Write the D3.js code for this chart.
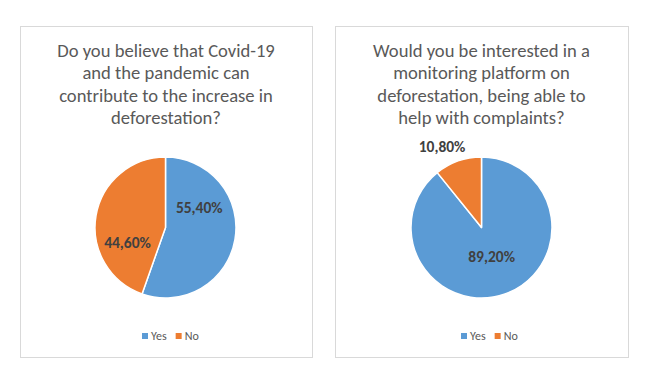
<!DOCTYPE html>
<html><head><meta charset="utf-8">
<script src="https://cdn.jsdelivr.net/npm/d3@7"></script>
<style>body{margin:0;background:#fff}svg{display:block}</style>
</head><body>
<script>
const categories = ["Yes", "No"];
const chart1Title = ["Do you believe that Covid-19", "and the pandemic can", "contribute to the increase in", "deforestation?"];
const chart1Values = [55.4, 44.6];
const chart2Title = ["Would you be interested in a", "monitoring platform on", "deforestation, being able to", "help with complaints?"];
const chart2Values = [89.2, 10.8];
const colors = ["#5b9bd5", "#ed7d31"];

// layout (label placement as polar offsets: degrees clockwise from top, radius px)
const panels = [
  {x:20, y:26, w:292, h:331, cx:165.5, cy:227.5, title:chart1Title, values:chart1Values,
   labels:[{a:60,r:39},{a:248,r:41}], legendX:142},
  {x:335, y:26, w:293, h:331, cx:481.5, cy:227.5, title:chart2Title, values:chart2Values,
   labels:[{a:161,r:31},{a:334,r:90}], legendX:461}
];
const R = 70.5;
const font = "Carlito, Calibri, Lato, 'Open Sans', sans-serif";
const fmt = v => d3.format(".2f")(v).replace(".", ",") + "%";

const svg = d3.select("body").append("svg").attr("width", 653).attr("height", 375);
svg.append("rect").attr("width",653).attr("height",375).attr("fill","#fff");

const pie = d3.pie().sort(null).value(d => d);
const arc = d3.arc().innerRadius(0).outerRadius(R);

panels.forEach(p => {
  const g = svg.append("g");
  g.append("rect").attr("x", p.x+0.5).attr("y", p.y+0.5).attr("width", p.w).attr("height", p.h)
    .attr("fill", "#fff").attr("stroke", "#d9d9d9").attr("stroke-width", 1);
  const tcx = p.x + p.w/2;
  g.selectAll("text.title").data(p.title).join("text").attr("class","title")
    .attr("x", tcx).attr("y", (d,i) => 57 + i*22.3)
    .attr("text-anchor", "middle").attr("fill", "#595959")
    .style("font-family", font).style("font-size", "18.6px").text(d => d);

  const pg = g.append("g").attr("transform", `translate(${p.cx},${p.cy})`);
  const arcs = pie(p.values);
  pg.selectAll("path").data(arcs).join("path")
    .attr("d", arc).attr("fill", (d,i) => colors[i])
    .attr("stroke", "#fff").attr("stroke-width", 1.5).attr("stroke-linejoin","round");
  pg.selectAll("text.lbl").data(arcs).join("text").attr("class","lbl")
    .attr("x", (d,i) => p.labels[i].r * Math.sin(p.labels[i].a*Math.PI/180))
    .attr("y", (d,i) => -p.labels[i].r * Math.cos(p.labels[i].a*Math.PI/180))
    .attr("dy", "0.35em").attr("text-anchor", "middle").attr("fill", "#404040")
    .style("font-family", font).style("font-size", "15.5px").style("font-weight", "bold")
    .text(d => fmt(d.data));

  // legend
  const lg = g.append("g").attr("transform", `translate(${p.legendX},336)`);
  let xo = 0;
  categories.forEach((c,i) => {
    lg.append("rect").attr("x", xo).attr("y", -3).attr("width", 6).attr("height", 6).attr("fill", colors[i]);
    const t = lg.append("text").attr("x", xo+9).attr("y", 0).attr("dy","0.35em").attr("fill","#595959")
      .style("font-family", font).style("font-size", "12px").text(c);
    xo += 9 + t.node().getComputedTextLength() + 9;
  });
});
</script>
</body></html>
